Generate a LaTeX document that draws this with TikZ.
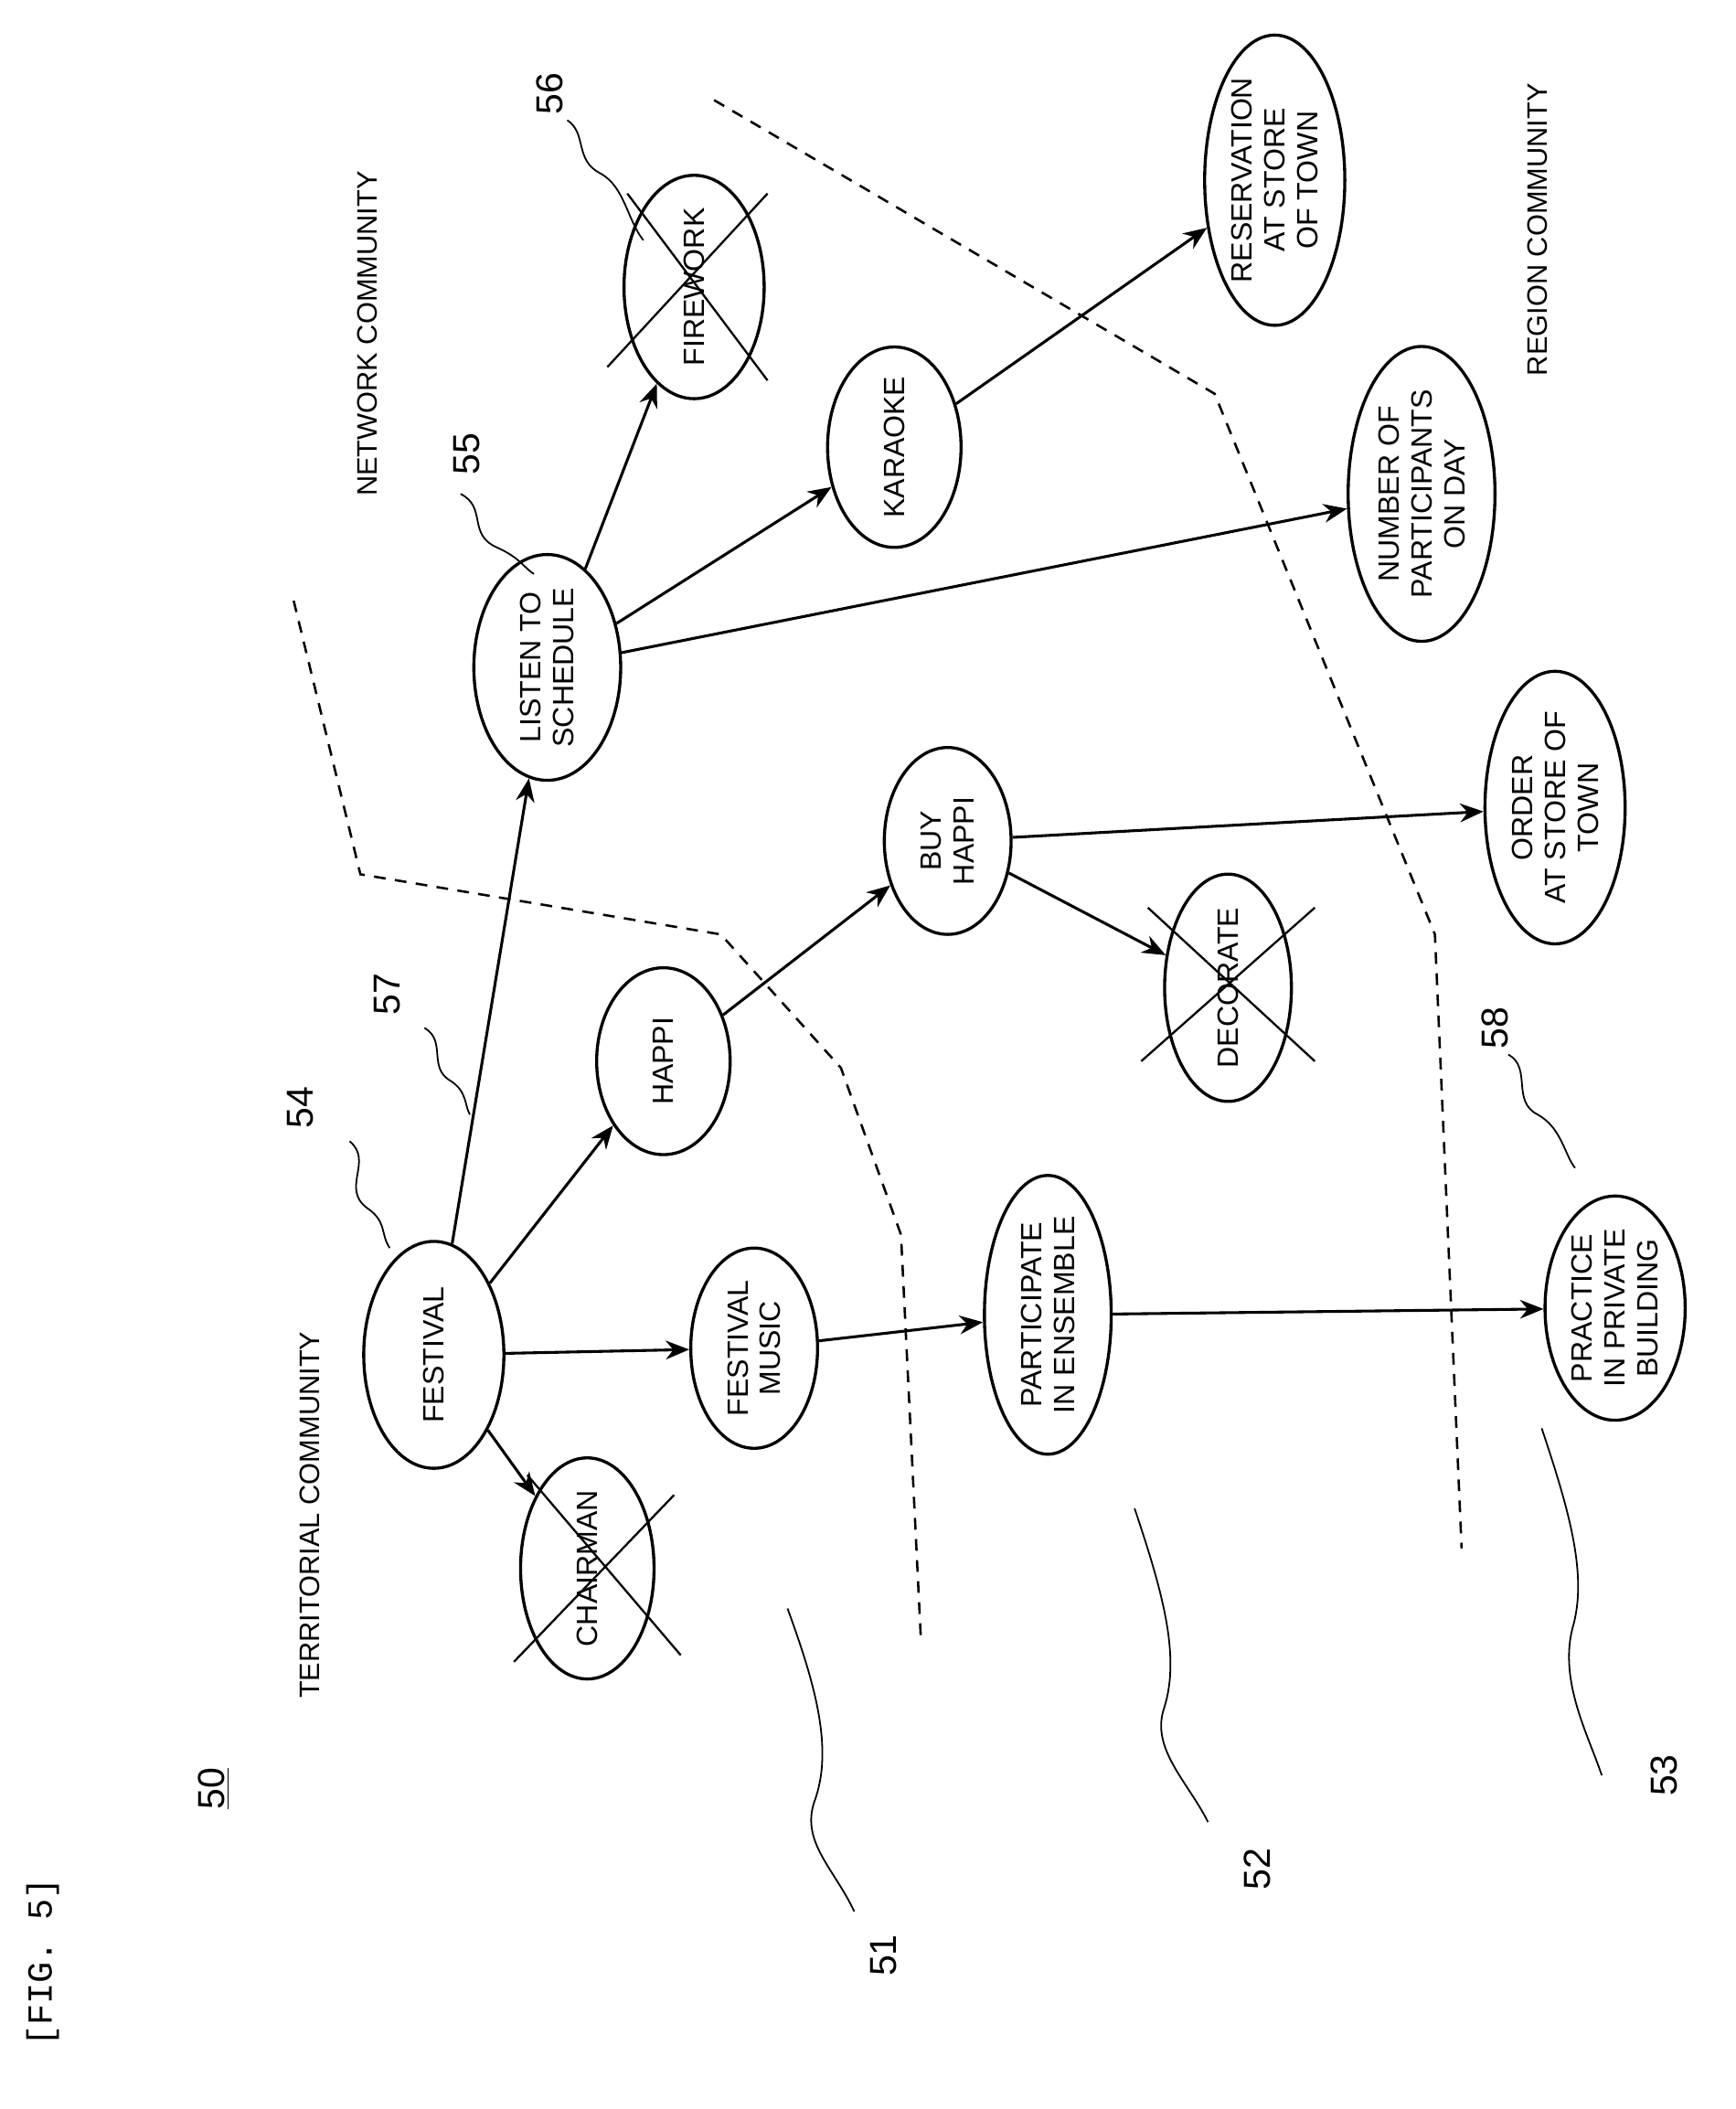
\documentclass[tikz,border=0pt]{standalone}
\usepackage{fontspec}
\setmainfont{Liberation Sans}
\setmonofont{Liberation Mono}
\usetikzlibrary{shapes.geometric,arrows.meta,calc}
\begin{document}
\begin{tikzpicture}[x=0.02cm,y=-0.02cm,
  e/.style n args={2}{ellipse,draw,line width=1.3pt,rotate=90,align=center,inner sep=0pt,
     minimum width=#2*0.02cm,minimum height=#1*0.02cm,font=\fontsize{12.5}{14}\selectfont},
  a/.style={-{Stealth[length=10pt,width=8pt]},line width=1.2pt},
  dl/.style={line width=1pt,dash pattern=on 5pt off 4pt},
  lab/.style={rotate=90,font=\fontsize{12}{14}\selectfont},
  num/.style={rotate=90,font=\fontsize{16}{18}\selectfont},
  ld/.style={line width=0.7pt},
  cr/.style={line width=0.9pt}]
\useasboundingbox (0,0) rectangle (1300,1580);
\node[e={100}{150}] (ch) at (440,1175) {CHAIRMAN};
\node[e={105}{170}] (fe) at (325,1015) {FESTIVAL};
\node[e={95}{150}] (fm) at (565,1010) {FESTIVAL\\MUSIC};
\node[e={100}{140}] (ha) at (497,795) {HAPPI};
\node[e={95}{190}] (pa) at (785,985) {PARTICIPATE\\IN ENSEMBLE};
\node[e={95}{140}] (bh) at (710,630) {BUY\\HAPPI};
\node[e={95}{150}] (de) at (920,740) {DECORATE};
\node[e={110}{160}] (ls) at (410,500) {LISTEN TO\\SCHEDULE};
\node[e={105}{150}] (fw) at (520,215) {FIREWORK};
\node[e={100}{150}] (ka) at (670,335) {KARAOKE};
\node[e={105}{190}] (re) at (955,135) {RESERVATION\\AT STORE\\OF TOWN};
\node[e={110}{185}] (nu) at (1065,370) {NUMBER OF\\PARTICIPANTS\\ON DAY};
\node[e={105}{170}] (or) at (1165,605) {ORDER\\AT STORE OF\\TOWN};
\node[e={105}{165}] (pr) at (1210,980) {PRACTICE\\IN PRIVATE\\BUILDING};
% crosses
\draw[cr] (385,1245)--(505,1120) (395,1105)--(510,1240);
\draw[cr] (855,795)--(985,680) (860,680)--(985,795);
\draw[cr] (455,275)--(575,145) (470,145)--(575,285);
% edges
\draw[a] (fe)--(ch);
\draw[a] (fe)--(fm);
\draw[a] (fe)--(ha);
\draw[a] (fe)--(ls);
\draw[a] (fm)--(pa);
\draw[a] (ha)--(bh);
\draw[a] (pa)--(pr);
\draw[a] (bh)--(de);
\draw[a] (bh)--(or);
\draw[a] (ls)--(fw);
\draw[a] (ls)--(ka);
\draw[a] (ls)--(nu);
\draw[a] (ka)--(re);
% dashed
\draw[dl] (220,450)--(270,655)--(540,700)--(630,800)--(675,925)--(690,1230);
\draw[dl] (535,75)--(910,295)--(1075,700)--(1095,1160);
% labels
\node[lab] (t1) at (232,1135) {TERRITORIAL COMMUNITY};
\node[lab] (t2) at (275,250) {NETWORK COMMUNITY};
\node[lab] (t3) at (1152,172) {REGION COMMUNITY};
\node[num] (n50) at (160,1340) {\underline{50}};
\node[rotate=90,font=\ttfamily\fontsize{15}{17}\selectfont] (fig) at (32,1470) {[FIG. 5]};
\node[num] (n54) at (225,830) {54};
\node[num] (n55) at (350,340) {55};
\node[num] (n56) at (412,70) {56};
\node[num] (n57) at (290,745) {57};
\node[num] (n58) at (1120,770) {58};
\node[num] (n51) at (662,1465) {51};
\node[num] (n52) at (942,1400) {52};
\node[num] (n53) at (1247,1330) {53};
% leaders
\draw[ld] (262,855) .. controls (280,870) and (255,890) .. (275,905) .. controls (290,915) and (285,925) .. (292,935);
\draw[ld] (345,370) .. controls (365,380) and (350,400) .. (372,410) .. controls (390,418) and (392,425) .. (400,430);
\draw[ld] (425,90) .. controls (440,100) and (430,120) .. (450,130) .. controls (468,140) and (470,165) .. (482,180);
\draw[ld] (318,770) .. controls (335,780) and (320,800) .. (338,810) .. controls (350,818) and (348,828) .. (352,835);
\draw[ld] (1130,790) .. controls (1148,800) and (1132,825) .. (1152,835) .. controls (1170,845) and (1172,865) .. (1180,875);
\draw[ld] (590,1205) .. controls (610,1260) and (625,1310) .. (610,1350) .. controls (600,1380) and (625,1400) .. (640,1432);
\draw[ld] (850,1130) .. controls (870,1190) and (885,1240) .. (872,1280) .. controls (862,1310) and (890,1335) .. (905,1365);
\draw[ld] (1155,1070) .. controls (1175,1130) and (1190,1180) .. (1178,1220) .. controls (1168,1260) and (1190,1300) .. (1200,1330);
\end{tikzpicture}
\end{document}
